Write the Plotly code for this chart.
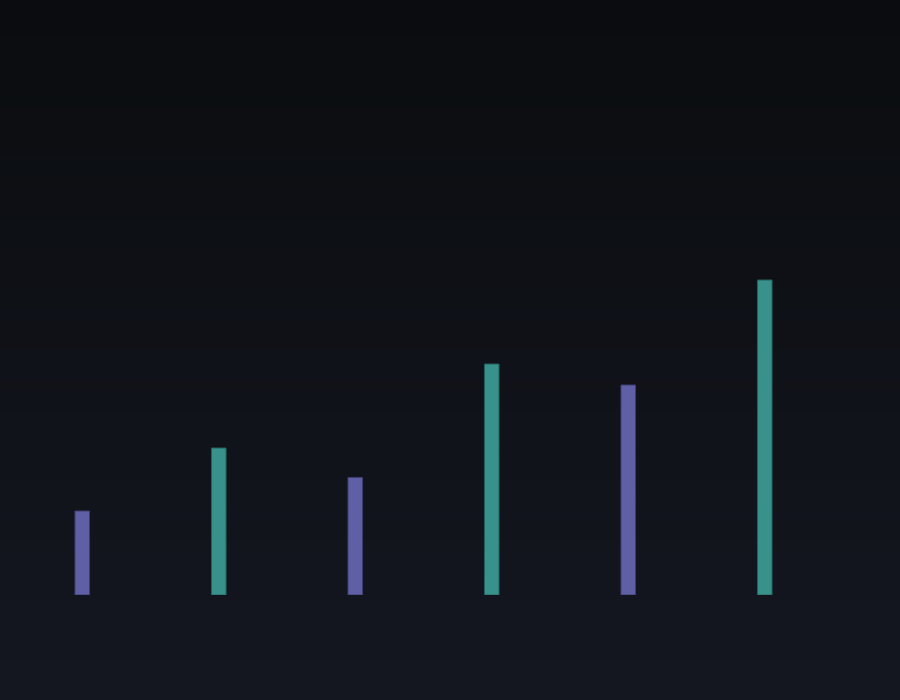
import plotly.graph_objects as go

categories = ["A", "B", "C", "D", "E", "F"]
values = [40, 70, 56, 110, 100, 150]
bar_colors = ["#5f5fa6", "#38918b", "#5f5fa6", "#38918b", "#5f5fa6", "#38918b"]
line_colors = ["#3c3c6e", "#23605c", "#3c3c6e", "#23605c", "#3c3c6e", "#23605c"]


def hex_to_rgb(h):
    h = h.lstrip("#")
    return tuple(int(h[i:i + 2], 16) for i in (0, 2, 4))


def gradient_shapes(top, bottom, steps=70):
    # paper-referenced bands so the gradient covers the whole page
    t = hex_to_rgb(top)
    b = hex_to_rgb(bottom)
    y0, y1 = -0.32, 1.78
    shapes = []
    for n in range(steps):
        f = n / (steps - 1)
        c = tuple(round(t[k] + (b[k] - t[k]) * f) for k in range(3))
        ya = y1 - (y1 - y0) * n / steps
        yb = y1 - (y1 - y0) * (n + 1) / steps
        shapes.append(dict(
            type="rect", xref="paper", yref="paper",
            x0=-0.05, x1=1.15, y0=yb, y1=ya + 0.002,
            fillcolor="rgb(%d,%d,%d)" % c, line=dict(width=0),
            layer="below",
        ))
    return shapes


fig = go.Figure()
fig.add_trace(go.Bar(
    x=categories,
    y=values,
    marker=dict(color=bar_colors, line=dict(color=line_colors, width=1)),
    hoverinfo="x+y",
    showlegend=False,
))

fig.update_layout(
    width=900, height=700,
    paper_bgcolor="#0f1115",
    plot_bgcolor="rgba(0,0,0,0)",
    margin=dict(l=14, r=67, t=259, b=105),
    bargap=0.893,
    shapes=gradient_shapes("#0a0c0f", "#141720"),
    xaxis=dict(visible=False, range=[-0.5, 5.5]),
    yaxis=dict(visible=False, range=[0, 160]),
)

# drop the default page margin so the chart fills the window
fig.write_html(
    "out.html",
    config={"displayModeBar": False},
    post_script="document.body.style.margin='0';"
                "document.body.style.background='#0f1115';",
)
